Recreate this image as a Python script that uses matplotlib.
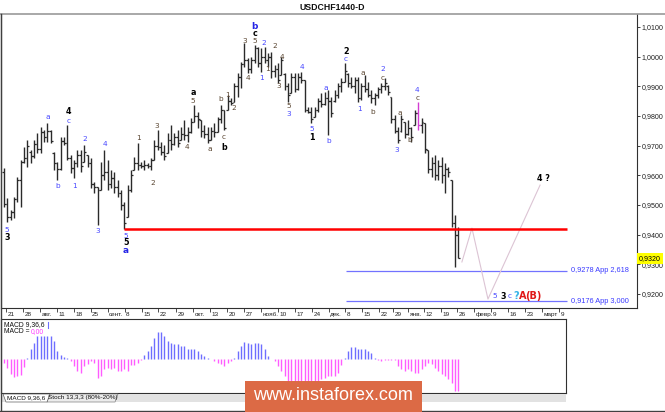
import matplotlib
matplotlib.use('Agg')
import matplotlib.pyplot as plt
import matplotlib.transforms as mtransforms
from matplotlib.patches import Rectangle, Polygon
from matplotlib.lines import Line2D
import numpy as np

plt.rcParams['font.family'] = ['Liberation Sans', 'DejaVu Sans']

# ---------------- data (USDCHF daily) ----------------
opens = [
0.9610,0.9505,0.9460,0.9475,0.9520,0.9585,0.9645,0.9660,0.9680,0.9665,
0.9705,0.9690,0.9745,0.9730,0.9750,0.9675,0.9640,0.9620,0.9715,0.9710,
0.9660,0.9625,0.9640,0.9670,0.9645,0.9668,0.9640,0.9570,0.9560,0.9551,
0.9600,0.9610,0.9570,0.9590,0.9560,0.9540,0.9500,0.9460,0.9550,0.9618,
0.9640,0.9635,0.9630,0.9635,0.9632,0.9652,0.9700,0.9695,0.9680,0.9675,
0.9720,0.9705,0.9730,0.9719,0.9740,0.9735,0.9745,0.9780,0.9800,0.9786,
0.9750,0.9740,0.9720,0.9750,0.9746,0.9790,0.9820,0.9820,0.9850,0.9847,
0.9900,0.9930,0.9975,0.9990,0.9960,0.9990,1.0030,0.9980,1.0000,0.9990,
1.0000,0.9950,0.9960,0.9938,0.9940,0.9900,0.9877,0.9930,0.9890,0.9930,
0.9920,0.9820,0.9815,0.9797,0.9820,0.9850,0.9840,0.9860,0.9850,0.9850,
0.9870,0.9900,0.9915,0.9940,0.9910,0.9900,0.9920,0.9860,0.9900,0.9890,
0.9870,0.9860,0.9870,0.9890,0.9900,0.9900,0.9864,0.9790,0.9750,0.9750,
0.9780,0.9740,0.9760,0.9770,0.9810,0.9770,0.9776,0.9685,0.9620,0.9640,
0.9600,0.9630,0.9600,0.9620,0.9584,0.9440,0.9400]
highs = [
0.9625,0.9524,0.9483,0.9527,0.9594,0.9652,0.9695,0.9719,0.9685,0.9719,
0.9743,0.9763,0.9753,0.9776,0.9753,0.9679,0.9645,0.9729,0.9729,0.9770,
0.9668,0.9652,0.9685,0.9685,0.9702,0.9668,0.9658,0.9577,0.9561,0.9645,
0.9685,0.9652,0.9618,0.9611,0.9584,0.9551,0.9510,0.9567,0.9618,0.9662,
0.9709,0.9645,0.9652,0.9642,0.9658,0.9719,0.9753,0.9712,0.9702,0.9743,
0.9770,0.9743,0.9753,0.9763,0.9786,0.9763,0.9793,0.9837,0.9813,0.9786,
0.9770,0.9763,0.9763,0.9776,0.9797,0.9837,0.9820,0.9871,0.9861,0.9911,
0.9945,0.9982,1.0046,0.9995,0.9999,1.0039,1.0032,1.0029,1.0032,1.0012,
1.0016,0.9972,0.9979,0.9999,0.9945,0.9911,0.9945,0.9945,0.9945,0.9948,
0.9921,0.9830,0.9830,0.9830,0.9861,0.9877,0.9881,0.9888,0.9864,0.9888,
0.9911,0.9928,0.9979,0.9945,0.9931,0.9931,0.9931,0.9911,0.9938,0.9915,
0.9888,0.9877,0.9898,0.9911,0.9928,0.9904,0.9864,0.9803,0.9763,0.9803,
0.9780,0.9786,0.9763,0.9820,0.9847,0.9793,0.9776,0.9685,0.9662,0.9668,
0.9652,0.9662,0.9642,0.9628,0.9584,0.9466,0.9426]
lows = [
0.9493,0.9443,0.9449,0.9456,0.9510,0.9493,0.9642,0.9628,0.9642,0.9658,
0.9675,0.9675,0.9712,0.9712,0.9709,0.9618,0.9584,0.9618,0.9702,0.9652,
0.9608,0.9591,0.9628,0.9611,0.9645,0.9628,0.9557,0.9540,0.9433,0.9551,
0.9584,0.9551,0.9557,0.9540,0.9527,0.9483,0.9419,0.9460,0.9544,0.9618,
0.9618,0.9625,0.9618,0.9625,0.9618,0.9652,0.9685,0.9668,0.9652,0.9675,
0.9685,0.9702,0.9695,0.9719,0.9719,0.9712,0.9743,0.9780,0.9759,0.9729,
0.9726,0.9709,0.9719,0.9729,0.9746,0.9776,0.9753,0.9820,0.9837,0.9847,
0.9864,0.9894,0.9965,0.9945,0.9945,0.9979,0.9965,0.9948,0.9979,0.9965,
0.9928,0.9931,0.9911,0.9938,0.9888,0.9847,0.9877,0.9881,0.9888,0.9911,
0.9813,0.9810,0.9776,0.9797,0.9813,0.9830,0.9837,0.9736,0.9797,0.9847,
0.9861,0.9881,0.9915,0.9898,0.9894,0.9877,0.9847,0.9854,0.9881,0.9864,
0.9844,0.9837,0.9861,0.9877,0.9888,0.9871,0.9776,0.9743,0.9709,0.9746,
0.9726,0.9736,0.9712,0.9770,0.9753,0.9743,0.9675,0.9608,0.9594,0.9584,
0.9584,0.9574,0.9540,0.9594,0.9426,0.9291,0.9321]
closes = [
0.9505,0.9460,0.9475,0.9520,0.9585,0.9645,0.9660,0.9700,0.9665,0.9705,
0.9690,0.9745,0.9730,0.9750,0.9715,0.9640,0.9620,0.9715,0.9710,0.9660,
0.9625,0.9640,0.9670,0.9630,0.9680,0.9640,0.9570,0.9560,0.9550,0.9600,
0.9610,0.9570,0.9590,0.9560,0.9540,0.9500,0.9440,0.9550,0.9600,0.9640,
0.9635,0.9630,0.9635,0.9632,0.9650,0.9700,0.9695,0.9680,0.9665,0.9720,
0.9705,0.9730,0.9710,0.9740,0.9735,0.9745,0.9780,0.9800,0.9790,0.9750,
0.9740,0.9720,0.9750,0.9745,0.9790,0.9820,0.9760,0.9850,0.9845,0.9900,
0.9930,0.9975,0.9990,0.9960,0.9990,1.0030,0.9980,1.0000,0.9990,1.0000,
0.9950,0.9960,0.9920,0.9990,0.9900,0.9870,0.9930,0.9890,0.9930,0.9920,
0.9820,0.9815,0.9790,0.9820,0.9850,0.9840,0.9860,0.9850,0.9810,0.9870,
0.9900,0.9915,0.9950,0.9910,0.9900,0.9920,0.9860,0.9900,0.9890,0.9870,
0.9860,0.9870,0.9890,0.9900,0.9910,0.9880,0.9790,0.9750,0.9720,0.9790,
0.9740,0.9760,0.9730,0.9810,0.9770,0.9780,0.9690,0.9620,0.9640,0.9600,
0.9630,0.9600,0.9620,0.9610,0.9440,0.9400,0.9320]

# MACD(9,36,6) histogram, in pips (1e-4)
macd_pips = [
-7,-17,-30,-35,-33,-31,-15,3,20,33,
47,47,47,47,47,37,17,8,5,3,
-3,-13,-23,-27,-13,-10,-3,-7,-37,-33,
-20,-17,-20,-17,-23,-23,-20,-23,-12,-12,
-7,-1,8,17,27,43,55,55,47,37,
33,30,30,27,27,20,20,20,17,10,
7,3,1,-3,-7,-10,-13,-7,-3,2,
17,27,35,33,30,32,32,30,20,7,
0,-3,-13,-23,-33,-43,-43,-47,-43,-43,
-47,-47,-47,-47,-43,-40,-37,-33,-33,-33,
-27,-11,2,17,25,25,20,21,21,17,
13,3,-2,-3,-2,-1,-1,-1,-13,-19,
-23,-20,-23,-27,-27,-20,-13,-7,-10,-17,
-23,-30,-33,-40,-47,-63,-63]

highlight_bar = 124
price_levels = [1.0100, 1.0000, 0.9900, 0.9800, 0.9700, 0.9600, 0.9500, 0.9400, 0.9300, 0.9200]
support_level = 0.9420
support_start_bar = 36
fib_levels = [0.9278, 0.9176]
fib_texts = ['0,9278 App 2,618', '0,9176 App 3,000']

# forecast path (bar index, price)
fc_bars = [137.1, 140.1, 144.9, 160.5]
fc_prices = [0.9308, 0.9422, 0.9183, 0.9567]

# date axis
tick_bars = [0.6, 5.7, 10.8, 15.9, 21.0, 26.0, 31.1, 36.2, 41.3, 46.1, 51.5, 56.6,
             61.7, 66.8, 71.9, 76.9, 82.0, 87.1, 92.2, 97.3, 102.1, 107.2, 112.3,
             116.5, 121.0, 125.7, 130.8, 135.6, 140.7, 145.8, 150.9, 156.0, 161.1, 166.2]
tick_labels = ['21', '28', 'авг.', '11', '18', '25', 'сент.', '8', '15', '22', '29', 'окт.',
               '13', '20', '27', 'нояб.', '10', '17', '24', 'дек.', '8', '15', '22',
               '29', 'янв.', '12', '19', '26', 'февр.', '9', '16', '23', 'март', '9']

# Elliott wave labels: (bar, price, text, style)
wave_labels = [
    (0.9, 0.9416, '5', 'blue'), (0.9, 0.9392, '3', 'black'),
    (13.2, 0.9797, 'a', 'blue'), (16.2, 0.9564, 'b', 'blue'),
    (19.2, 0.9814, '4', 'black'), (19.2, 0.9782, 'c', 'blue'),
    (21.0, 0.9564, '1', 'blue'), (24.3, 0.9722, '2', 'blue'),
    (28.1, 0.9412, '3', 'blue'), (30.2, 0.9706, '4', 'blue'),
    (36.5, 0.9397, '5', 'blue'), (36.5, 0.9372, '5', 'black'), (36.5, 0.9345, 'a', 'bblue'),
    (40.4, 0.9726, '1', 'brown'), (44.6, 0.9574, '2', 'brown'), (45.8, 0.9766, '3', 'brown'),
    (54.8, 0.9695, '4', 'brown'), (56.6, 0.9852, '5', 'brown'), (56.6, 0.9880, 'a', 'black'),
    (61.7, 0.9689, 'a', 'brown'), (65.0, 0.9857, 'b', 'brown'), (65.9, 0.9728, 'c', 'brown'),
    (65.9, 0.9695, 'b', 'black'), (66.8, 0.9871, '1', 'brown'), (68.9, 0.9827, '2', 'brown'),
    (72.2, 1.0053, '3', 'brown'), (73.1, 0.9928, '4', 'brown'),
    (75.1, 1.0102, 'b', 'bblue'), (75.1, 1.0077, 'c', 'black'), (75.1, 1.0054, '5', 'brown'),
    (77.2, 0.9928, '1', 'blue'), (77.8, 1.0046, '2', 'blue'),
    (79.0, 0.9958, '1', 'brown'), (81.1, 1.0036, '2', 'brown'), (82.3, 0.9901, '3', 'brown'),
    (83.2, 0.9999, '4', 'brown'), (85.3, 0.9832, '5', 'brown'), (85.3, 0.9805, '3', 'blue'),
    (89.2, 0.9965, '4', 'blue'), (92.2, 0.9755, '5', 'blue'), (92.2, 0.9728, '1', 'black'),
    (96.4, 0.9894, 'a', 'blue'), (97.3, 0.9716, 'b', 'blue'),
    (102.4, 1.0018, '2', 'black'), (102.4, 0.9992, 'c', 'blue'),
    (106.6, 0.9824, '1', 'blue'), (107.5, 0.9945, 'a', 'brown'), (110.5, 0.9813, 'b', 'brown'),
    (113.5, 0.9957, '2', 'blue'), (113.5, 0.9928, 'c', 'brown'),
    (117.7, 0.9685, '3', 'blue'), (118.6, 0.9810, 'a', 'brown'), (121.6, 0.9719, 'b', 'brown'),
    (123.7, 0.9886, '4', 'blue'), (123.7, 0.9860, 'c', 'brown'),
    (161.4, 0.9588, '4 ?', 'black'),
    (147.0, 0.9193, '5', 'blue'), (149.4, 0.9193, '3', 'black'), (151.5, 0.9193, 'c', 'blue'),
    (153.3, 0.9193, '?', 'cyan'), (155.3, 0.9193, 'A', 'red'), (158.6, 0.9193, '(B)', 'red'),
]
label_styles = {
    'blue': ('#4848ff', 'normal', 5.3),
    'brown': ('#5a4632', 'normal', 5.3),
    'black': ('#000000', 'bold', 5.8),
    'bblue': ('#2424e6', 'bold', 6.4),
    'red': ('#e01818', 'bold', 7.0),
    'cyan': ('#38b4e8', 'bold', 7.0),
}

# ---------------- layout ----------------
W, H = 665, 412
fig = plt.figure(figsize=(W / 100, H / 100), dpi=100)
fig.patch.set_facecolor('white')


def fig_rect(x0, y0, x1, y1):
    return [x0 / W, 1 - y1 / H, (x1 - x0) / W, (y1 - y0) / H]


BAR_PX = 3.34
FIRST_PX = 4.0


def px_to_idx(px):
    return (px - FIRST_PX) / BAR_PX


n = len(closes)
idx = np.arange(n)

ax = fig.add_axes(fig_rect(1, 14, 637, 308))
ax.set_facecolor('white')
ax.set_xlim(px_to_idx(1), px_to_idx(637))
ax.set_ylim(0.91528, 1.01437)

bar_colors = ['#d23cd2' if i == highlight_bar else '#2a2a2a' for i in idx]
ax.vlines(idx, lows, highs, colors=bar_colors, lw=1.0, zorder=3)
ax.hlines(opens, idx - 0.55, idx, colors=bar_colors, lw=0.9, zorder=3)
ax.hlines(closes, idx, idx + 0.55, colors=bar_colors, lw=0.9, zorder=3)

# support / fib lines
ax.hlines(support_level, support_start_bar, px_to_idx(567), color='#ff0000', lw=1.8, zorder=4)
ax.hlines(fib_levels, px_to_idx(346), px_to_idx(567), color='#7272ff', lw=0.9, zorder=2)
for lv, txt in zip(fib_levels, fib_texts):
    ax.text(px_to_idx(571), lv, txt, color='#3a3aff', fontsize=5.3, va='center', ha='left', zorder=5)

ax.plot(fc_bars, fc_prices, color='#dcc4d4', lw=0.8, zorder=2)

for b, p, t, st in wave_labels:
    c, w, fs = label_styles[st]
    ax.text(b, p, t, color=c, fontweight=w, fontsize=fs, ha='center', va='center',
            family=['DejaVu Sans'], zorder=6)

# axes styling
for s in ['left', 'bottom', 'right']:
    ax.spines[s].set_color('#303030')
    ax.spines[s].set_linewidth(0.8)
ax.spines['top'].set_visible(False)
ax.yaxis.tick_right()
ax.set_yticks(price_levels)
ax.set_yticklabels([f'{v:.4f}'.replace('.', ',') for v in price_levels])
ax.tick_params(axis='y', direction='out', length=2.5, width=0.6, pad=1.0, labelsize=5.1,
               colors='#202020')
ax.set_xticks(tick_bars)
ax.tick_params(axis='x', direction='out', length=3, width=0.6, labelbottom=False, colors='#303030')
trans = mtransforms.blended_transform_factory(ax.transData, ax.transAxes)
for tb, tl in zip(tick_bars, tick_labels):
    ax.text(tb + 0.4, -0.022, tl, transform=trans, ha='left', va='center', fontsize=4.6,
            color='#202020', clip_on=False)

# current price box
ptrans = mtransforms.blended_transform_factory(ax.transAxes, ax.transData)
ax.text(1.003, closes[-1], f'{closes[-1]:.4f}'.replace('.', ','), transform=ptrans,
        ha='left', va='center', fontsize=5.1, color='#000000', clip_on=False, zorder=10,
        bbox=dict(facecolor='#ffff00', edgecolor='none', pad=1.4))

# title and top line
fig.text(332 / W, 1 - 7.5 / H, 'USDCHF1440-D', ha='center', va='center', fontsize=6.3,
         fontweight='bold', color='#101010')
fig.add_artist(Line2D([0, 1], [1 - 14 / H, 1 - 14 / H], color='#9a9a9a', lw=1.2))

# ---------------- MACD panel ----------------
ax2 = fig.add_axes(fig_rect(1, 319, 566, 393))
ax2.set_facecolor('white')
ax2.set_xlim(px_to_idx(1), px_to_idx(566))
ax2.set_ylim(-68, 80)
mcol = ['#6e6eff' if v > 0 else '#ff5cff' for v in macd_pips]
ax2.vlines(idx, 0, macd_pips, colors=mcol, lw=1.0)
ax2.set_xticks([])
ax2.set_yticks([])
for s in ax2.spines.values():
    s.set_color('#303030')
    s.set_linewidth(0.8)
fig.text(4 / W, 1 - 324.5 / H, 'MACD 9,36,6', fontsize=4.9, ha='left', va='center', color='#101010')
fig.add_artist(Line2D([47.5 / W, 47.5 / W], [1 - 322 / H, 1 - 328 / H], color='#6e6eff', lw=0.8))
fig.text(4 / W, 1 - 331.5 / H, 'MACD =', fontsize=4.9, ha='left', va='center', color='#101010')
fig.text(30.5 / W, 1 - 331.5 / H, '0,00', fontsize=4.9, ha='left', va='center', color='#ff3cff')

# bottom tab strip
fig.add_artist(Rectangle((1 / W, 1 - 402 / H), 565 / W, 8 / H, facecolor='#e2e2e2',
                         edgecolor='none', transform=fig.transFigure))
fig.add_artist(Polygon([[50 / W, 1 - 394 / H], [118 / W, 1 - 394 / H], [115 / W, 1 - 402 / H],
                        [47 / W, 1 - 402 / H]], closed=True, facecolor='#ececec',
                       edgecolor='#808080', lw=0.5, transform=fig.transFigure))
fig.add_artist(Polygon([[3 / W, 1 - 394 / H], [50 / W, 1 - 394 / H], [47 / W, 1 - 402 / H],
                        [6 / W, 1 - 402 / H]], closed=True, facecolor='white',
                       edgecolor='#606060', lw=0.5, transform=fig.transFigure))
fig.text(26 / W, 1 - 398 / H, 'MACD 9,36,6', fontsize=4.6, ha='center', va='center', color='#101010')
fig.text(83 / W, 1 - 398 / H, 'Stoch 13,3,3 (80%-20%)', fontsize=4.6, ha='center', va='center',
         color='#101010')

# frame
fig.add_artist(Line2D([0.7 / W, 0.7 / W], [1 - 14 / H, 1 - 411 / H], color='#404040', lw=1.0))
fig.add_artist(Line2D([0, 1], [1 - 411 / H, 1 - 411 / H], color='#404040', lw=1.0))

# watermark
fig.add_artist(Rectangle((245 / W, 0), 177 / W, 31 / H, facecolor='#dc6a45', edgecolor='none',
                         transform=fig.transFigure, zorder=20))
fig.text(333 / W, 1 - 395.5 / H, 'www.instaforex.com', fontsize=13, ha='center', va='center',
         color='white', zorder=21)

fig.savefig('out.png', dpi=100, facecolor='white')
